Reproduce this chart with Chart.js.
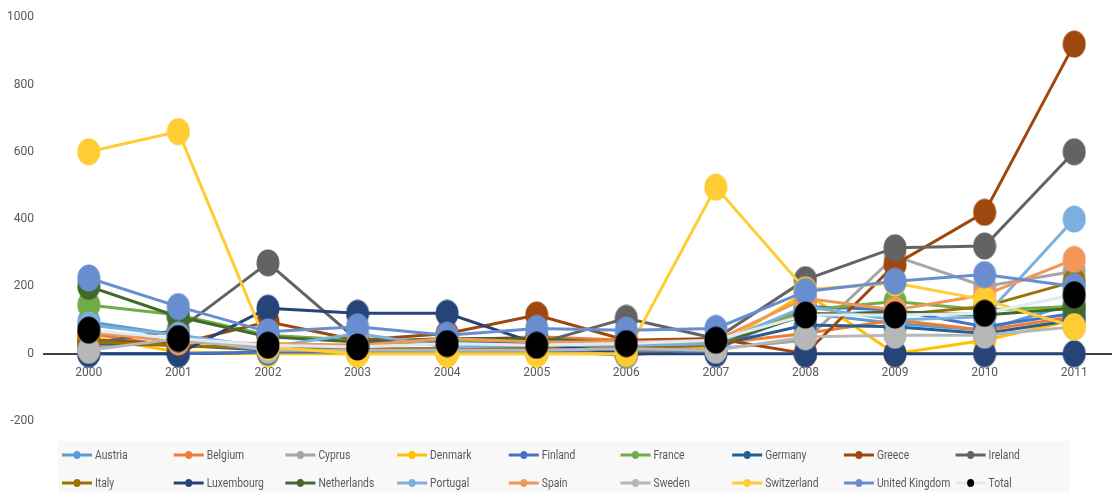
<!DOCTYPE html>
<html>
<head>
<meta charset="utf-8">
<script src="https://cdn.jsdelivr.net/npm/chart.js@4/dist/chart.umd.min.js"></script>
<style>
  html, body { margin: 0; padding: 0; background: #fff; overflow: hidden; }
  .wrap { width: 1134px; height: 492px; }
</style>
</head>
<body>
<div class="wrap"><canvas id="myChart" width="1134" height="492"></canvas></div>
<script>
// data

const years = ["2000", "2001", "2002", "2003", "2004", "2005", "2006", "2007", "2008", "2009", "2010", "2011"];

const austria = [95, 55, 15, 15, 10, 10, -5, 20, 120, 90, 70, 150];
const belgium = [60, 20, 25, 25, 40, 50, 40, 30, 60, 100, 70, 110];
const cyprus = [20, 40, 15, 10, 15, 15, 20, 15, 40, 290, 200, 245];
const denmark = [50, 5, 0, 0, 0, 0, 0, 20, 180, 0, 40, 100];
const finland = [0, 0, 5, 5, 5, 5, 10, 10, 140, 130, 80, 120];
const france = [145, 115, 55, 40, 35, 40, 30, 30, 130, 155, 130, 140];
const germany = [30, 25, 10, 10, 15, 15, 20, 25, 85, 80, 60, 100];
const greece = [40, 30, 95, 40, 60, 115, 40, 45, 0, 265, 420, 920];
const ireland = [30, 70, 270, 40, 30, 30, 105, 45, 220, 315, 320, 600];
const italy = [35, 25, 15, 15, 15, 15, 20, 25, 120, 115, 140, 215];
const luxembourg = [0, 0, 135, 120, 120, 30, 0, 0, 0, 0, 0, 0];
const netherlands = [200, 110, 50, 35, 45, 45, 30, 30, 115, 125, 115, 135];
const portugal = [85, 55, 20, 60, 20, 25, 25, 30, 140, 100, 110, 400];
const spain = [65, 35, 30, 25, 45, 35, 35, 40, 165, 130, 175, 280];
const sweden = [10, 45, 10, 10, 10, 10, 15, 10, 50, 55, 55, 80];
const switzerland = [600, 660, 20, 0, 0, 0, 0, 495, 190, 210, 160, 80];
const unitedKingdom = [225, 140, 65, 80, 55, 75, 70, 75, 185, 215, 235, 200];
const total = [70, 45, 25, 20, 30, 25, 30, 40, 115, 115, 120, 175];

const yTicks = [1000, 800, 600, 400, 200, 0, -200];

const series = [
  ["Austria", austria, "#5B9BD5"],
  ["Belgium", belgium, "#ED7D31"],
  ["Cyprus", cyprus, "#A5A5A5"],
  ["Denmark", denmark, "#FFC000"],
  ["Finland", finland, "#4472C4"],
  ["France", france, "#70AD47"],
  ["Germany", germany, "#255E91"],
  ["Greece", greece, "#9E480E"],
  ["Ireland", ireland, "#636363"],
  ["Italy", italy, "#997300"],
  ["Luxembourg", luxembourg, "#264478"],
  ["Netherlands", netherlands, "#43682B"],
  ["Portugal", portugal, "#7CAFDD"],
  ["Spain", spain, "#F1975A"],
  ["Sweden", sweden, "#B7B7B7"],
  ["Switzerland", switzerland, "#FFCD33"],
  ["United Kingdom", unitedKingdom, "#698ED0"],
];

// slightly tall oval markers
function makeDot(color) {
  const c = document.createElement("canvas");
  c.width = 24;
  c.height = 28;
  const g = c.getContext("2d");
  g.fillStyle = color;
  g.beginPath();
  g.ellipse(12, 14, 11.5, 13.5, 0, 0, Math.PI * 2);
  g.fill();
  return c;
}

const datasets = series.map(([name, values, color], i) => ({
  label: name,
  data: values,
  borderColor: color,
  backgroundColor: color,
  borderWidth: 3,
  pointStyle: makeDot(color),
  pointRadius: 12,
  order: 20 - i,
}));

datasets.push({
  label: "Total",
  data: total,
  borderColor: "#DEEBF7",
  backgroundColor: "#000000",
  borderWidth: 3,
  pointStyle: makeDot("#000000"),
  pointRadius: 12,
  order: 0,
  legendDot: "#000000",
});

// legend in a fixed 9-column grid under the plot
const gridLegend = {
  id: "gridLegend",
  afterDraw(chart) {
    const ctx = chart.ctx;
    ctx.save();
    ctx.fillStyle = "#F8F8F8";
    ctx.fillRect(58, 441, 1012, 51);
    ctx.font = "12px Roboto";
    ctx.textBaseline = "middle";
    chart.data.datasets.forEach((ds, i) => {
      const col = i % 9;
      const row = Math.floor(i / 9);
      const x = 62 + col * 111.7;
      const y = 455 + row * 28;
      ctx.strokeStyle = ds.borderColor;
      ctx.lineWidth = 3;
      ctx.beginPath();
      ctx.moveTo(x, y);
      ctx.lineTo(x + 30, y);
      ctx.stroke();
      ctx.fillStyle = ds.legendDot || ds.borderColor;
      ctx.beginPath();
      ctx.ellipse(x + 15, y, 3.5, 4, 0, 0, Math.PI * 2);
      ctx.fill();
      // narrow the text a little, like a condensed face
      ctx.save();
      ctx.translate(x + 33, y + 1);
      ctx.scale(0.86, 1);
      ctx.fillStyle = "#595959";
      ctx.fillText(ds.label, 0, 0);
      ctx.restore();
    });
    ctx.restore();
  },
};

const myChart = new Chart("myChart", {
  type: "line",
  data: {
    labels: years,
    datasets: datasets,
  },
  plugins: [gridLegend],
  options: {
    responsive: false,
    animation: false,
    layout: {
      padding: { top: 15, bottom: 71, left: 0, right: 1 },
    },
    scales: {
      y: {
        min: -200,
        max: 1000,
        afterBuildTicks: (axis) => {
          axis.ticks = yTicks.map((v) => ({ value: v }));
        },
        afterFit: (axis) => {
          axis.width = 44;
        },
        grid: { display: false, drawTicks: false },
        border: { display: false },
        ticks: {
          padding: 10,
          color: "#595959",
          font: { family: "Roboto", size: 12 },
          callback: (v) => String(v),
        },
      },
      x: {
        position: { y: 0 },
        offset: true,
        grid: { display: false, drawTicks: false },
        border: { display: true, color: "#404040", width: 2 },
        ticks: {
          padding: 12,
          color: "#595959",
          font: { family: "Roboto", size: 12 },
        },
      },
    },
    plugins: {
      legend: { display: false },
      tooltip: { enabled: false },
    },
  },
});
</script>
</body>
</html>
